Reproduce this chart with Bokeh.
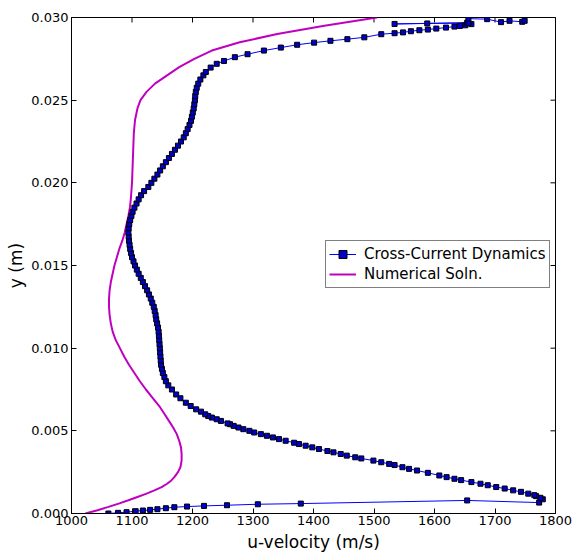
import math
from bokeh.plotting import figure
from bokeh.models import (LinearAxis, FixedTicker, Legend, LegendItem, Range1d,
                          PrintfTickFormatter)
from bokeh.embed import file_html
from bokeh.resources import INLINE

# ---------------- data ----------------
# Cross-Current Dynamics (u in m/s, y in m), in drawing order
ccd_u = [1061, 1077, 1091, 1106, 1118, 1130, 1142, 1156, 1170, 1191, 1219, 1257,
         1308, 1379, 1654, 1773, 1779,
         1775, 1768, 1765, 1755, 1743, 1730, 1716, 1702, 1688, 1676, 1661, 1644,
         1633, 1620, 1608, 1589, 1571, 1558, 1547, 1534, 1525, 1512, 1499, 1479,
         1469, 1455, 1445, 1433, 1423, 1409, 1398, 1387, 1376, 1368, 1354, 1343,
         1333, 1323, 1313, 1302, 1294, 1284, 1276, 1268, 1262, 1258, 1247, 1240,
         1232, 1226, 1221, 1214, 1206, 1197, 1189, 1180, 1173,
         1166, 1160, 1156, 1153.5, 1151, 1149.5, 1148, 1147.5, 1147, 1146.5,
         1146, 1145.5, 1145, 1144.5, 1144, 1143, 1141.5, 1140, 1139, 1137.5,
         1136, 1133.5, 1131, 1128, 1125, 1121.5, 1118, 1114.5, 1111, 1108,
         1105, 1102.5, 1100, 1098.5, 1097, 1096, 1095, 1094.5, 1094, 1094.5,
         1095.5, 1097, 1099, 1101, 1104, 1107.5, 1111, 1115, 1120, 1127,
         1132, 1137, 1142, 1146.5, 1151, 1156, 1161, 1166, 1171, 1176,
         1181, 1185.5, 1189, 1192, 1195, 1197.5, 1199, 1200.5, 1202, 1203,
         1204, 1204.5, 1205.5, 1207, 1209.5, 1213, 1218,
         1222, 1230, 1240, 1252, 1270, 1291, 1318, 1346, 1373, 1401, 1428,
         1456, 1484, 1512, 1534, 1548, 1561, 1575, 1589, 1603, 1619, 1633,
         1642, 1651, 1661, 1654, 1534, 1588, 1656, 1656, 1687, 1710, 1724,
         1745, 1749]
ccd_y = [0.0, 0.00004, 0.00008, 0.00014, 0.00018, 0.00022, 0.00026, 0.00032,
         0.00038, 0.00042, 0.00046, 0.0005, 0.00056, 0.0006, 0.00079, 0.00066,
         0.00086,
         0.00095, 0.00105, 0.00111, 0.0012, 0.00131, 0.0014, 0.00151, 0.0016,
         0.00171, 0.0018, 0.0019, 0.00202, 0.0021, 0.0022, 0.0023, 0.00246,
         0.0026, 0.0027, 0.0028, 0.00293, 0.0030, 0.0031, 0.0032, 0.00333,
         0.0034, 0.0035, 0.0036, 0.0037, 0.00378, 0.0039, 0.0040, 0.0041,
         0.0042, 0.00428, 0.0044, 0.0045, 0.0046, 0.0047, 0.0048, 0.0049,
         0.0050, 0.0051, 0.0052, 0.0053, 0.0054, 0.00545, 0.0056, 0.0057,
         0.0058, 0.0059, 0.0060, 0.00616, 0.0063, 0.0065, 0.0067, 0.00697,
         0.0072,
         0.0075, 0.00775, 0.0080, 0.00825, 0.0085, 0.00875, 0.0090, 0.00925,
         0.0095, 0.00975, 0.0100, 0.01025, 0.0105, 0.01075, 0.0110, 0.01125,
         0.0115, 0.01175, 0.0120, 0.01225, 0.0125, 0.01275, 0.0130, 0.01325,
         0.0135, 0.01375, 0.0140, 0.01425, 0.0145, 0.01475, 0.0150, 0.01525,
         0.0155, 0.01575, 0.0160, 0.01625, 0.0165, 0.01675, 0.0170, 0.01725,
         0.0175, 0.01775, 0.0180, 0.01825, 0.0185, 0.01875, 0.0190, 0.01925,
         0.0195, 0.01975, 0.0200, 0.02025, 0.0205, 0.02075, 0.0210, 0.02125,
         0.0215, 0.02175, 0.0220, 0.02225, 0.0225, 0.02275, 0.0230, 0.02325,
         0.0235, 0.02375, 0.0240, 0.02425, 0.0245, 0.02475, 0.0250, 0.02525,
         0.0255, 0.02575, 0.0260, 0.02625, 0.0265,
         0.0267, 0.02697, 0.0272, 0.02737, 0.0276, 0.02778, 0.0280, 0.02818,
         0.02835, 0.02848, 0.02859, 0.02869, 0.0288, 0.02899, 0.02905, 0.0291,
         0.02917, 0.02923, 0.02927, 0.02933, 0.02939, 0.02945, 0.02949,
         0.02953, 0.0296, 0.02969, 0.02961, 0.02964, 0.02966, 0.02993, 0.0299,
         0.02972, 0.0298, 0.02974, 0.0298]

# Numerical Soln.
num_u = [1023, 1043, 1061, 1078, 1094, 1109, 1124, 1137, 1149, 1158, 1165, 1170,
         1176, 1180, 1182, 1182, 1181, 1178, 1174, 1168, 1161, 1154, 1145, 1134,
         1123, 1113, 1104, 1095, 1087, 1080, 1073, 1068, 1065, 1063, 1062, 1062,
         1063, 1065, 1068, 1071, 1075, 1079, 1084, 1088, 1091, 1094, 1096.5, 1098,
         1100, 1101, 1102, 1103, 1105, 1109, 1114, 1124, 1138, 1158, 1178, 1203,
         1232, 1278, 1340, 1418, 1505]
num_y = [0.0, 0.0002, 0.0004, 0.0006, 0.0008, 0.0010, 0.0012, 0.0014, 0.0016,
         0.0018, 0.0020, 0.0022, 0.0025, 0.0028, 0.0032, 0.0036, 0.0040, 0.0044,
         0.0048, 0.0052, 0.0056, 0.0060, 0.0065, 0.0070, 0.0075, 0.0080, 0.0085,
         0.0090, 0.0095, 0.0100, 0.0105, 0.0110, 0.0115, 0.0120, 0.0125, 0.0130,
         0.0135, 0.0140, 0.0145, 0.0150, 0.0155, 0.0160, 0.0165, 0.0170, 0.0175,
         0.0180, 0.0185, 0.0190, 0.0200, 0.0210, 0.0220, 0.0230, 0.0238, 0.0245,
         0.0250, 0.0255, 0.0260, 0.0265, 0.0270, 0.0275, 0.0280, 0.0285, 0.0290,
         0.0295, 0.0300]

x_ticks = [1000, 1100, 1200, 1300, 1400, 1500, 1600, 1700, 1800]
y_ticks = [0.0, 0.005, 0.010, 0.015, 0.020, 0.025, 0.030]
X_MIN, X_MAX = 1000, 1800
Y_MIN, Y_MAX = 0.0, 0.030

# ---------------- figure ----------------
FONT = "DejaVu Sans"
p = figure(width=572, height=552, output_backend="svg", toolbar_location=None,
           x_range=Range1d(X_MIN, X_MAX), y_range=Range1d(Y_MIN, Y_MAX),
           frame_width=484, frame_height=496,
           min_border_left=71, min_border_right=17, min_border_top=17,
           min_border_bottom=39, x_axis_location=None, y_axis_location=None)
p.grid.visible = False
p.outline_line_color = "black"
p.outline_line_width = 1
p.background_fill_color = "white"
p.border_fill_color = "white"

def style_axis(ax):
    ax.axis_line_color = "black"
    ax.major_tick_in = 5
    ax.major_tick_out = 0
    ax.minor_tick_in = 0
    ax.minor_tick_out = 0
    ax.major_tick_line_color = "black"
    ax.major_label_text_font = FONT
    ax.major_label_text_font_size = "13px"
    ax.major_label_text_color = "black"
    ax.axis_label_text_font = FONT
    ax.axis_label_text_font_size = "17px"
    ax.axis_label_text_font_style = "normal"
    ax.axis_label_text_color = "black"

xb = LinearAxis(ticker=FixedTicker(ticks=x_ticks), axis_label="u-velocity (m/s)")
style_axis(xb)
xb.major_label_standoff = 2
xb.axis_label_standoff = 4
p.add_layout(xb, "below")

yl = LinearAxis(ticker=FixedTicker(ticks=y_ticks), axis_label="y (m)",
                formatter=PrintfTickFormatter(format="%.3f"))
style_axis(yl)
yl.major_label_standoff = 3
yl.axis_label_standoff = 2
p.add_layout(yl, "left")

# inward tick marks on the top and right frame edges (half of each dash is clipped)
p.scatter(x=x_ticks, y=[Y_MAX] * len(x_ticks), marker="dash", angle=math.pi / 2,
          size=10, line_color="black", line_width=1)
p.scatter(x=[X_MAX] * len(y_ticks), y=y_ticks, marker="dash", angle=0,
          size=10, line_color="black", line_width=1)

# ---------------- glyphs ----------------
num_line = p.line(num_u, num_y, line_color="#bf00bf", line_width=2)
ccd_line = p.line(ccd_u, ccd_y, line_color="blue", line_width=1)
ccd_pts = p.scatter(ccd_u, ccd_y, marker="square", size=5, fill_color="#0000cc",
                    line_color="black", line_width=1)

legend = Legend(items=[LegendItem(label="Cross-Current Dynamics", renderers=[ccd_line, ccd_pts]),
                       LegendItem(label="Numerical Soln.", renderers=[num_line])],
                location=(254, 225))
legend.label_text_font = FONT
legend.label_text_font_size = "15px"
legend.label_text_color = "black"
legend.border_line_color = "black"
legend.border_line_width = 1
legend.background_fill_color = "white"
legend.background_fill_alpha = 1
legend.padding = 3
legend.spacing = 0
legend.margin = 0
legend.glyph_width = 27
legend.glyph_height = 20
legend.label_height = 20
legend.label_standoff = 8
p.add_layout(legend, "center")

open("out.html", "w").write(file_html(p, INLINE))
